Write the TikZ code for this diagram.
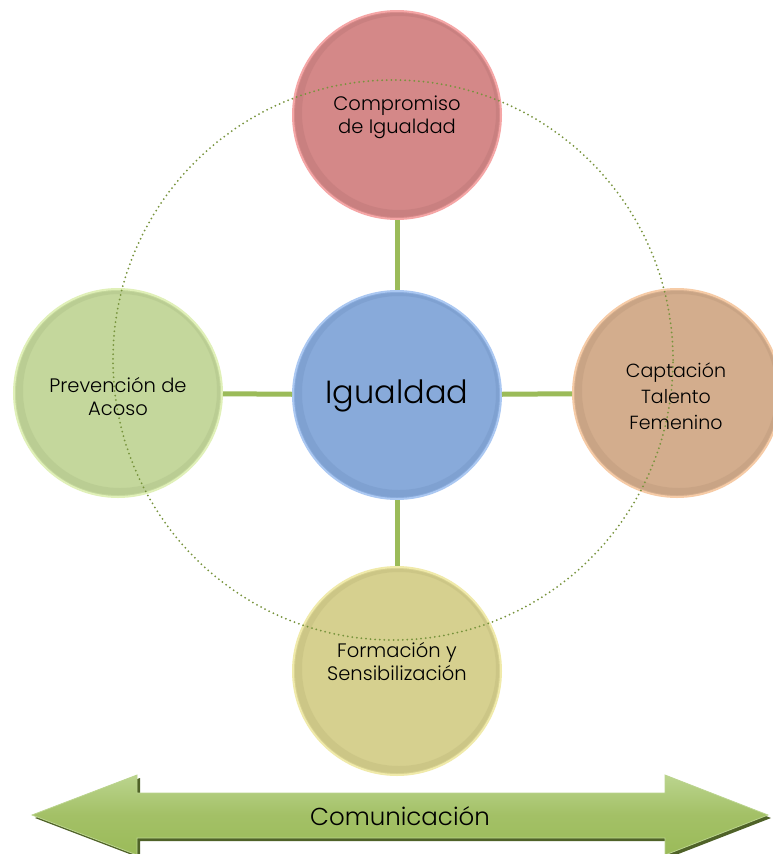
\documentclass[tikz,border=0pt]{standalone}
\usepackage{fontspec}
\setmainfont{Poppins Light}
\definecolor{redB}{HTML}{D48888}
\definecolor{redL}{HTML}{F5A6A6}
\definecolor{redD}{HTML}{B06E6E}
\definecolor{bluB}{HTML}{88AADA}
\definecolor{bluL}{HTML}{ABC8F2}
\definecolor{bluD}{HTML}{6A8BBB}
\definecolor{pchB}{HTML}{D3AD8D}
\definecolor{pchL}{HTML}{F6CBA6}
\definecolor{pchD}{HTML}{B28F72}
\definecolor{grnB}{HTML}{C4D79C}
\definecolor{grnL}{HTML}{E0F0B8}
\definecolor{grnD}{HTML}{A3B67E}
\definecolor{ylwB}{HTML}{D6D08F}
\definecolor{ylwL}{HTML}{F0EAAA}
\definecolor{ylwD}{HTML}{B5AF72}
\definecolor{cgreen}{HTML}{9BBB59}
\definecolor{dotg}{HTML}{77933C}
\definecolor{arrL}{HTML}{BBD48E}
\definecolor{arrD}{HTML}{4F6228}
\newcommand\bevelring[2]{\fill[#2, opacity=.28, even odd rule] (#1.center) circle (102pt) ([shift={(2,-2)}]#1.center) circle (97pt);}
\tikzset{
  bub/.style={circle, minimum size=208pt, inner sep=0pt, line width=2pt},
  conn/.style={line width=5pt, draw=cgreen},
  lbl/.style={align=center, text=black, inner sep=0pt, font=\fontsize{19.5}{23}\selectfont},
}
\begin{document}
\begin{tikzpicture}[x=1pt,y=-1pt]
\useasboundingbox[fill=white] (0,0) rectangle (772,854);
% circles
\node[bub, fill=redB, draw=redL] (comp) at (397,115) {};
\bevelring{comp}{redD}
\node[bub, fill=bluB, draw=bluL] (igu) at (397,395) {};
\bevelring{igu}{bluD}
\node[bub, fill=pchB, draw=pchL] (capt) at (677,393) {};
\bevelring{capt}{pchD}
\node[bub, fill=grnB, draw=grnL] (prev) at (118,393) {};
\bevelring{prev}{grnD}
\node[bub, fill=ylwB, draw=ylwL] (form) at (397,671) {};
\bevelring{form}{ylwD}
% connectors
\draw[conn] (comp) -- (igu);
\draw[conn] (prev) -- (igu);
\draw[conn] (igu) -- (capt);
\draw[conn] (igu) -- (form);
% dotted circle
\coordinate (ring) at (393,360);
\draw[dotg, line width=2pt, dash pattern=on 0pt off 4.6pt, line cap=round] (ring) circle (280pt);
% labels
\node[lbl] (tcomp) at (397,117) {Compromiso\\de Igualdad};
\node[lbl, font=\fontsize{32}{36}\selectfont] (tigu) at (397,396) {Igualdad};
\node[lbl, font=\fontsize{19}{26}\selectfont] (tcapt) at (676,396) {Captación\\Talento\\Femenino};
\node[lbl] (tprev) at (118,397) {Prevención de\\Acoso};
\node[lbl] (tform) at (397,662) {Formación y\\Sensibilización};
% arrow
\fill[arrD] (35,818) -- (140,778) -- (140,796) -- (668,796) -- (668,778) -- (771,818) -- (668,858) -- (668,841) -- (140,841) -- (140,858) -- cycle;
\shade[top color=arrL, bottom color=cgreen, middle color=cgreen!92!white, draw=arrL, line width=0.8pt]
  (32,815) -- (137,775) -- (137,793) -- (665,793) -- (665,775) -- (768,815) -- (665,855) -- (665,838) -- (137,838) -- (137,855) -- cycle;
\node[lbl, font=\fontsize{24.5}{28}\selectfont] (tcom) at (400,816) {Comunicación};
\end{tikzpicture}
\end{document}
